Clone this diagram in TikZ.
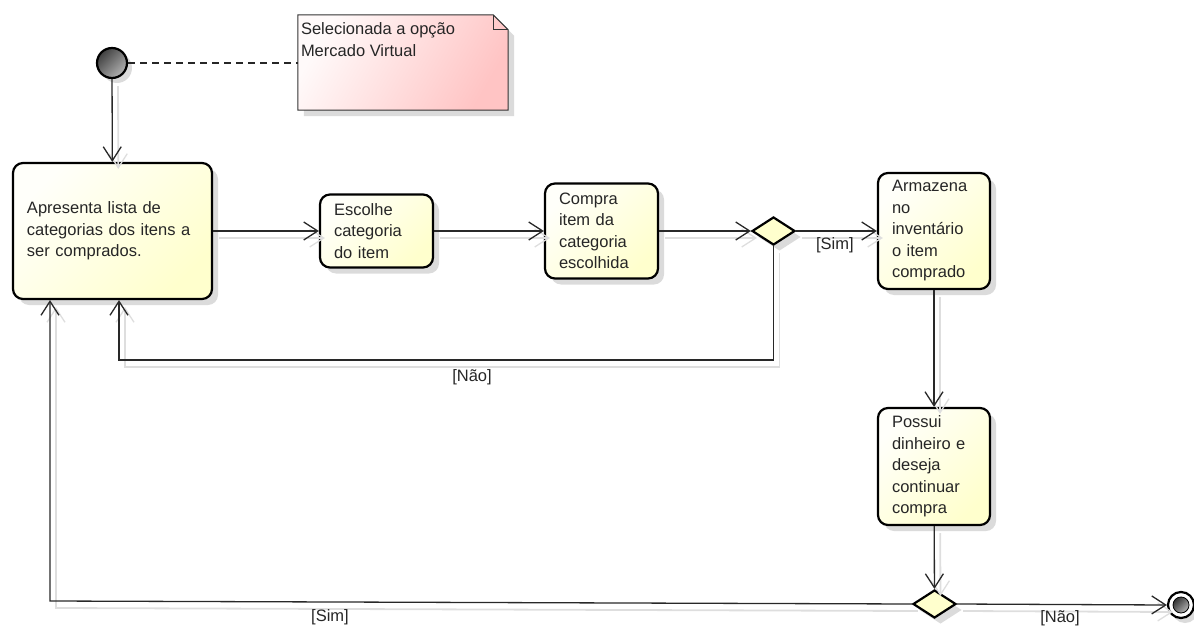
\documentclass[tikz,border=0pt]{standalone}
\usepackage{fontspec}
\setmainfont{Liberation Sans}
\usetikzlibrary{arrows.meta,shapes.geometric,shadows,calc}

\definecolor{boxA}{RGB}{255,255,250}
\definecolor{boxB}{RGB}{255,255,205}
\definecolor{noteA}{RGB}{255,250,250}
\definecolor{noteB}{RGB}{255,196,196}
\definecolor{wire}{RGB}{40,40,40}
\definecolor{ghost}{RGB}{222,222,222}

\tikzset{
  x=1pt, y=-1pt,
  every node/.style={font=\fontsize{16.5}{21.5}\selectfont, text=black!85},
  boxshadow/.style={drop shadow={shadow xshift=6pt, shadow yshift=-6pt, fill=black!14, opacity=1}},
  action/.style={draw=black, line width=2.2pt, rounded corners=10pt,
    left color=boxA, right color=boxB, shading angle=45, boxshadow,
    align=left, inner xsep=14pt, inner ysep=0pt,
    text width=#1-28pt, minimum width=#1},
  decision/.style={diamond, draw=black, line width=2.2pt, fill=boxB,
    minimum width=43pt, minimum height=28pt, inner sep=0pt, aspect=1.5, boxshadow},
  conn/.style={draw=wire, line width=1.3pt,
    -{Straight Barb[length=14pt, width=18pt, line width=1.3pt]},
    preaction={draw=ghost, line width=1.8pt, transform canvas={xshift=6pt, yshift=-7pt}}},
  guard/.style={inner sep=0pt}
}

\begin{document}
\begin{tikzpicture}
\useasboundingbox (0,0) rectangle (1194,626);

% initial and final states
\node[circle, draw=black, line width=2.2pt, minimum size=30pt, inner sep=0pt,
      left color=black!75, right color=black!30, shading angle=45,
      drop shadow={shadow xshift=5pt, shadow yshift=-5pt, fill=black!14, opacity=1}]
      (init) at (112,63) {};
\node[circle, draw=black, line width=2.2pt, fill=white, minimum size=26pt, inner sep=0pt,
      drop shadow={shadow xshift=4pt, shadow yshift=-5pt, fill=black!14, opacity=1}]
      (final) at (1181,605) {};
\shade[left color=black!80, right color=black!30, shading angle=45] (final.center) circle (8pt);
\draw[black, line width=0.8pt] (final.center) circle (8pt);

% comment note with folded corner
\node[minimum width=210pt, minimum height=95pt, inner sep=0pt] (note) at (403,62.5) {};
\fill[black!14] ($(note.north west)+(6,6)$) -- ($(note.north east)+(-9,6)$)
   -- ($(note.north east)+(6,21)$) -- ($(note.south east)+(6,6)$) -- ($(note.south west)+(6,6)$) -- cycle;
\shade[left color=noteA, right color=noteB, shading angle=60, draw=black!80, line width=1pt]
   (note.north west) -- ($(note.north east)+(-15,0)$) -- ($(note.north east)+(0,15)$)
   -- (note.south east) -- (note.south west) -- cycle;
\draw[black!80, line width=1pt] ($(note.north east)+(-15,0)$) -- ($(note.north east)+(-15,15)$) -- ($(note.north east)+(0,15)$);
\node[anchor=north west, align=left, inner sep=0pt] (notetext) at ($(note.north west)+(3,8)$)
   {Selecionada a opção\\Mercado Virtual};

% actions
\node[action=199pt, minimum height=136pt] (A) at (112.5,231)
   {Apresenta lista de\\categorias dos itens a\\ser comprados.};
\node[action=113pt, minimum height=73pt] (B) at (376.5,231)
   {Escolhe\\categoria\\do item};
\node[action=113pt, minimum height=95pt] (C) at (601.5,231)
   {Compra\\item da\\categoria\\escolhida};
\node[action=112pt, minimum height=116pt] (E) at (934,231)
   {Armazena\\no\\inventário\\o item\\comprado};
\node[action=112pt, minimum height=117pt] (F) at (934,466.5)
   {Possui\\dinheiro e\\deseja\\continuar\\compra};

% decisions
\node[decision] (D1) at (773.5,231) {};
\node[decision] (D2) at (934.5,604) {};

% bends of the return flows
\coordinate (naoTurn) at (119,360);
\coordinate (simTurn) at (50,601);

% flows
\draw[draw=black!85, line width=1.2pt, dash pattern=on 7pt off 5pt]
   (init.east) -- (init.east -| note.west);
\draw[conn] (init) -- (A);
\draw[conn] (A.east) -- (B.west);
\draw[conn] (B.east) -- (C.west);
\draw[conn] (C.east) -- (D1.west);
\draw[conn] (D1.east) -- (E.west)
   node[guard, pos=0.48, below=6pt] (lsim1) {[Sim]};
\draw[conn] (D1.south) |- (naoTurn) -- (naoTurn |- A.south);
\node[guard] (lnao1) at (472,377) {[Não]};
\draw[conn] (E) -- (F);
\draw[conn] (F) -- (D2);
\draw[conn] (D2.east) -- (final.west);
\node[guard] (lnao2) at (1060,618) {[Não]};
\draw[conn] (D2.west) -- (simTurn) -- (simTurn |- A.south);
\node[guard] (lsim2) at (330,617) {[Sim]};
\end{tikzpicture}
\end{document}
